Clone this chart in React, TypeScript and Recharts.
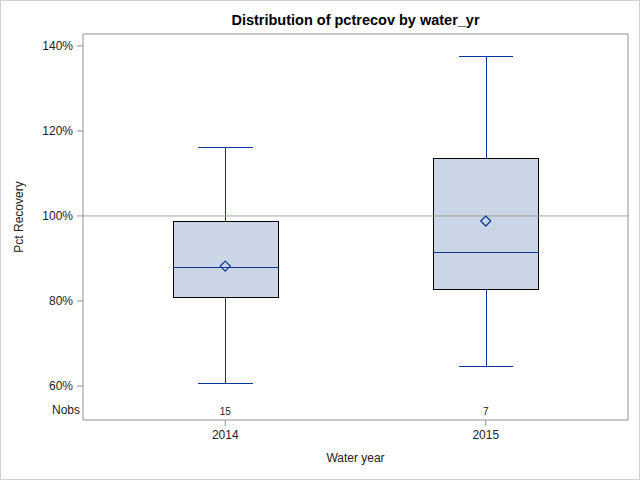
import React from 'react';
import {
  ComposedChart, Bar, Scatter, XAxis, YAxis, ReferenceLine,
} from 'recharts';

// Box plot statistics (percent recovery)
const YEARS = ['2014', '2015'];
const MINS = [60.7, 64.5];
const Q1S = [80.7, 82.8];
const MEDIANS = [87.8, 91.5];
const MEANS = [88.2, 98.8];
const Q3S = [98.6, 113.6];
const MAXS = [116.2, 137.4];
const NOBS = [15, 7];

const Y_TICKS = [60, 80, 100, 120, 140];
const Y_DOMAIN: [number, number] = [52, 142.8];

const data = YEARS.map((year, i) => ({
  year,
  range: [MINS[i], MAXS[i]],
  min: MINS[i],
  q1: Q1S[i],
  median: MEDIANS[i],
  mean: MEANS[i],
  q3: Q3S[i],
  max: MAXS[i],
  nobs: NOBS[i],
}));

const FONT = 'Arial, "Liberation Sans", sans-serif';
const BLUE = '#0a3696';
const BOX_FILL = '#cad5e5';
const FRAME = '#8c9096';
const TEXT = '#222';

function BoxShape(props: any) {
  const { x, y, width, height, payload } = props;
  const { min, max } = payload;
  // map a value to pixels using the bar's own [min, max] extent
  const py = (v: number) => y + (height * (max - v)) / (max - min);
  const cx = x + width / 2;
  const cap = width * 0.26;
  return (
    <g shapeRendering="crispEdges">
      <line x1={cx} x2={cx} y1={py(max)} y2={py(payload.q3)} stroke={BLUE} strokeWidth={1} />
      <line x1={cx - cap} x2={cx + cap} y1={py(max)} y2={py(max)} stroke={BLUE} strokeWidth={1} />
      <line x1={cx} x2={cx} y1={py(payload.q1)} y2={py(min)} stroke={BLUE} strokeWidth={1} />
      <line x1={cx - cap} x2={cx + cap} y1={py(min)} y2={py(min)} stroke={BLUE} strokeWidth={1} />
      <rect
        x={x}
        y={py(payload.q3)}
        width={width}
        height={py(payload.q1) - py(payload.q3)}
        fill={BOX_FILL}
        stroke="#000"
        strokeWidth={1}
      />
      <line x1={x} x2={x + width} y1={py(payload.median)} y2={py(payload.median)} stroke={BLUE} strokeWidth={1} />
    </g>
  );
}

function MeanDiamond(props: any) {
  const { cx, cy } = props;
  const r = 5;
  return (
    <path
      d={`M${cx},${cy - r} L${cx + r},${cy} L${cx},${cy + r} L${cx - r},${cy} Z`}
      fill="none"
      stroke={BLUE}
      strokeWidth={1.2}
    />
  );
}

function YearTick(props: any) {
  const { x, y, payload, index } = props;
  return (
    <g>
      <text x={x} y={y - 13} textAnchor="middle" fontSize={10} fill={TEXT} fontFamily={FONT}>
        {NOBS[index]}
      </text>
      <text x={x} y={y + 11} textAnchor="middle" fontSize={12} fill={TEXT} fontFamily={FONT}>
        {payload.value}
      </text>
    </g>
  );
}

function XLabel(props: any) {
  const { viewBox } = props;
  const { x, y, width } = viewBox;
  return (
    <g>
      <text x={x - 3} y={y - 6} textAnchor="end" fontSize={12} fill={TEXT} fontFamily={FONT}>
        Nobs
      </text>
      <text x={x + width / 2} y={y + 42} textAnchor="middle" fontSize={12} fill={TEXT} fontFamily={FONT}>
        Water year
      </text>
    </g>
  );
}

export default function App() {
  return (
    <div
      style={{
        position: 'absolute',
        left: 0,
        top: 0,
        width: 640,
        height: 480,
        boxSizing: 'border-box',
        border: '1px solid #d0d0d0',
        background: '#fff',
        fontFamily: FONT,
      }}
    >
      <div
        style={{
          position: 'absolute',
          top: 11,
          left: 82,
          width: 545,
          textAlign: 'center',
          fontSize: 14.5,
          fontWeight: 'bold',
          color: '#000',
        }}
      >
        Distribution of pctrecov by water_yr
      </div>
      <ComposedChart
        width={638}
        height={478}
        data={data}
        margin={{ top: 32, right: 10, bottom: 0, left: 0 }}
      >
        <XAxis
          dataKey="year"
          height={59}
          padding={{ left: 12, right: 12 }}
          axisLine={{ stroke: FRAME }}
          tickLine={{ stroke: FRAME }}
          tickSize={6}
          tickMargin={2}
          tick={<YearTick />}
          label={<XLabel />}
        />
        <XAxis
          xAxisId="top"
          dataKey="year"
          orientation="top"
          height={1}
          padding={{ left: 12, right: 12 }}
          axisLine={{ stroke: FRAME }}
          tick={false}
          tickLine={false}
        />
        <YAxis
          type="number"
          domain={Y_DOMAIN}
          ticks={Y_TICKS}
          width={82}
          allowDataOverflow
          axisLine={{ stroke: FRAME }}
          tickLine={{ stroke: FRAME }}
          tickSize={6}
          tickMargin={4}
          tickFormatter={(v: number) => `${v}%`}
          tick={{ fontSize: 12, fill: TEXT, fontFamily: FONT }}
          label={{
            value: 'Pct Recovery',
            angle: -90,
            position: 'insideLeft',
            offset: 18,
            dy: -10,
            style: { fontSize: 12, fill: TEXT, fontFamily: FONT, textAnchor: 'middle' },
          }}
        />
        <YAxis
          yAxisId="right"
          orientation="right"
          type="number"
          domain={Y_DOMAIN}
          width={1}
          axisLine={{ stroke: FRAME }}
          tick={false}
          tickLine={false}
        />
        <ReferenceLine y={100} stroke="#a0a0a0" strokeWidth={1} />
        <Bar dataKey="range" barSize={105} shape={<BoxShape />} isAnimationActive={false} />
        <Scatter dataKey="mean" shape={<MeanDiamond />} isAnimationActive={false} />
      </ComposedChart>
    </div>
  );
}
